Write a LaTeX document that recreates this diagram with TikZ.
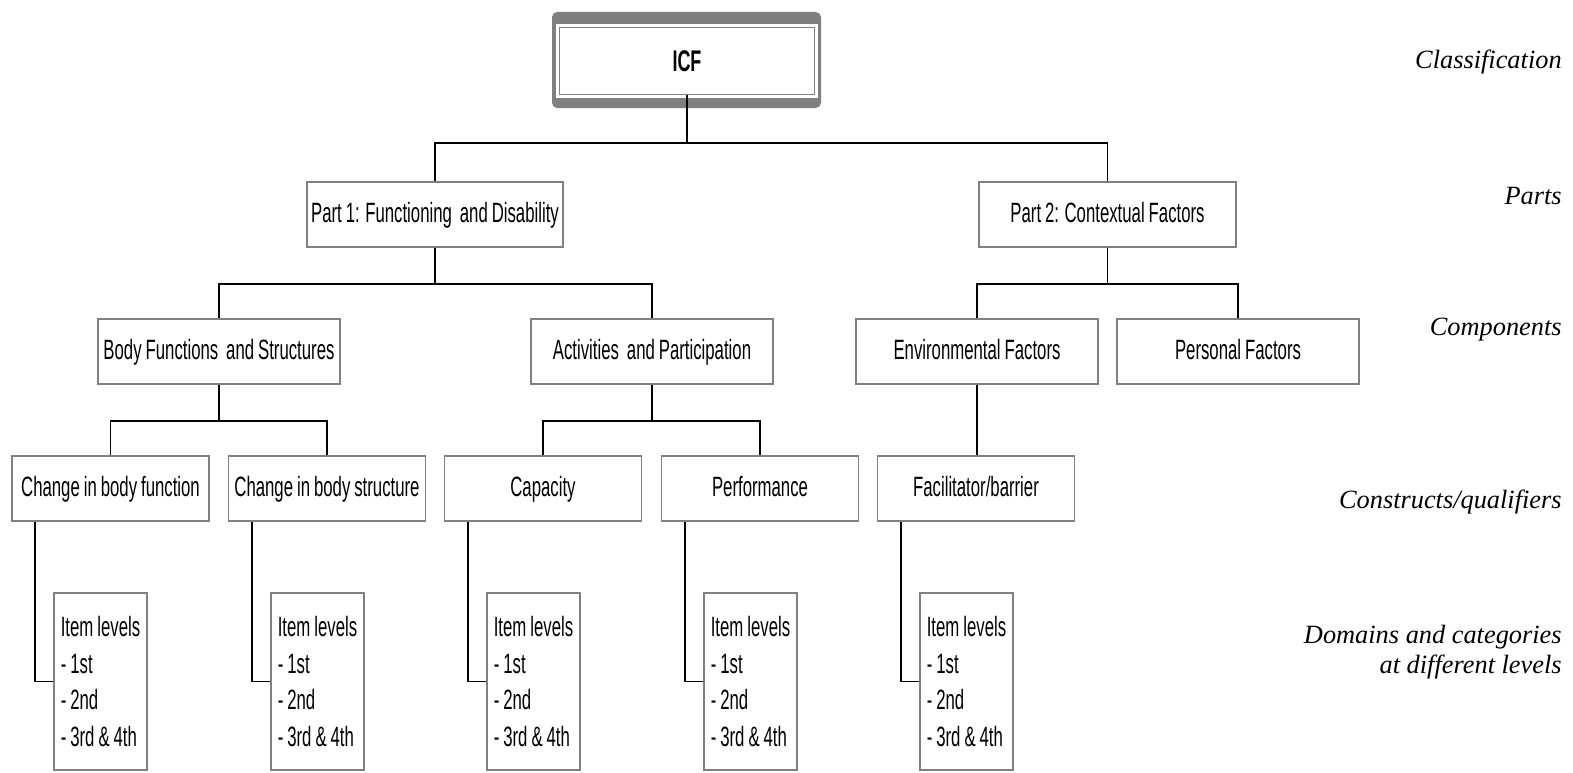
\documentclass[tikz,border=0pt]{standalone}
\usepackage{fontspec}
\setmainfont{Liberation Serif}
\setsansfont[FakeStretch=0.6,WordSpace=0.85]{Liberation Sans}
\usepackage{tikz}
\usetikzlibrary{positioning,backgrounds,calc}
\definecolor{edgegrey}{HTML}{808080}
\definecolor{framegrey}{HTML}{7F7F7F}
\tikzset{
  icfbox/.style={
    rectangle, draw=edgegrey, line width=0.6pt, fill=white,
    minimum width=5.1cm, minimum height=1.34cm,
    font=\sffamily\fontsize{17pt}{20pt}\selectfont\bfseries
  },
  treebox/.style={
    rectangle, draw=edgegrey, line width=1.1pt, fill=white,
    minimum width=#1, minimum height=1.3cm, inner sep=2pt, text depth=0.08cm,
    font=\sffamily\fontsize{15.9pt}{19pt}\selectfont
  },
  treebox/.default=4.84cm,
  itembox/.style={
    rectangle, draw=edgegrey, line width=1.1pt, fill=white,
    minimum width=1.86cm, minimum height=3.54cm, inner sep=0.1cm, align=left,
    font=\sffamily\fontsize{15.9pt}{21pt}\selectfont
  },
  levellabel/.style={
    anchor=east, align=right, inner sep=0pt,
    font=\itshape\fontsize{15pt}{17pt}\selectfont
  },
  link/.style={line width=1.1pt, black}
}

\begin{document}
\begin{tikzpicture}[x=0.02cm, y=-0.02cm]
\useasboundingbox (0,0) rectangle (1573,772);

% tree boxes
\node[icfbox] (icf) at (687,61) {ICF};
\node[treebox=5.12cm] (part1) at (435,214.5) {Part 1: Functioning \ and Disability};
\node[treebox=5.14cm] (part2) at (1107.5,214.5) {Part 2: Contextual Factors};

\node[treebox] (body) at (219,351.5) {Body Functions \ and Structures};
\node[treebox] (activ) at (652,351.5) {Activities \ and Participation};
\node[treebox] (envir) at (977,351.5) {Environmental Factors};
\node[treebox] (person) at (1238,351.5) {Personal Factors};

\node[treebox=3.94cm] (bodyfun) at (110.5,488.5) {Change in body function};
\node[treebox=3.94cm] (bodystr) at (327,488.5) {Change in body structure};
\node[treebox=3.94cm] (capac) at (543,488.5) {Capacity};
\node[treebox=3.94cm] (perf) at (760,488.5) {Performance};
\node[treebox=3.94cm] (facil) at (976,488.5) {Facilitator/barrier};

\foreach \nm/\x in {items1/100.5, items2/317.5, items3/533.5, items4/750.5, items5/966.5}
  \node[itembox] (\nm) at (\x,681.5) {Item levels\\- 1st\\- 2nd\\- 3rd \& 4th};

% frame round ICF
\begin{scope}[on background layer]
\fill[framegrey, rounded corners=3pt] ($(icf.north west)+(-7,-15)$) rectangle ($(icf.south east)+(6,13)$);
\fill[white] ($(icf.north west)+(-3,-3)$) rectangle ($(icf.south east)+(3,3)$);
\end{scope}

% connectors
\draw[link] (icf.south) -- ++(0,48) coordinate (bus0) -| (part1.north);
\draw[link] (bus0) -| (part2.north);
\draw[link] (part1.south) -- ++(0,36) coordinate (bus1) -| (body.north);
\draw[link] (bus1) -| (activ.north);
\draw[link] (part2.south) -- ++(0,36) coordinate (bus2) -| (envir.north);
\draw[link] (bus2) -| (person.north);
\draw[link] (body.south) -- ++(0,36) coordinate (bus3) -| (bodyfun.north);
\draw[link] (bus3) -| (bodystr.north);
\draw[link] (activ.south) -- ++(0,36) coordinate (bus4) -| (capac.north);
\draw[link] (bus4) -| (perf.north);
\draw[link] (envir.south) -- (envir.south |- facil.north);

\foreach \src/\dst in {bodyfun/items1, bodystr/items2, capac/items3, perf/items4, facil/items5}
  \draw[link] ([xshift=24*0.02cm]\src.south west) |- (\dst.west);

% level names
\node[levellabel] (lclass) at (1562,62) {Classification};
\node[levellabel] (lparts) at (1562,196) {Parts};
\node[levellabel] (lcomp) at (1562,330) {Components};
\node[levellabel] (lconst) at (1562,502) {Constructs/qualifiers};
\node[levellabel] (ldom) at (1562,652) {Domains and categories\\at different levels};
\end{tikzpicture}
\end{document}
